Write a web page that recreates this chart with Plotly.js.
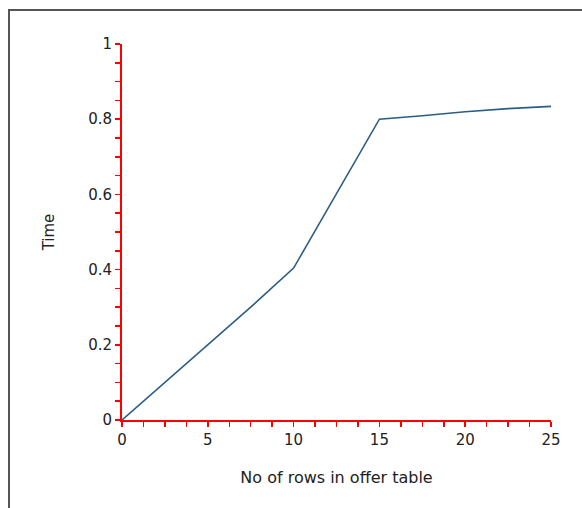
<!DOCTYPE html>
<html>
<head>
<meta charset="utf-8">
<script src="https://cdn.plot.ly/plotly-3.0.1.min.js"></script>
<style>
  html, body { margin: 0; padding: 0; background: #fff; }
  #wrap { position: relative; width: 582px; height: 508px; overflow: hidden; }
  #chart { width: 582px; height: 508px; }
  #frame { position: absolute; left: 8px; top: 9px; width: 700px; height: 700px;
           border-top: 2px solid #555; border-left: 2px solid #555; pointer-events: none; }
</style>
</head>
<body>
<div id="wrap">
  <div id="chart"></div>
  <div id="frame"></div>
</div>
<script>
const rows = [0, 2.5, 5, 7.5, 10, 12.5, 15, 17.5, 20, 22.5, 25];
const times = [0, 0.1, 0.2, 0.3, 0.404, 0.602, 0.8, 0.809, 0.82, 0.828, 0.834];
const xTitle = 'No of rows in offer table';
const yTitle = 'Time';

const FONT = 'DejaVu Sans, Verdana, sans-serif';

const trace = {
  x: rows, y: times, type: 'scatter', mode: 'lines',
  line: { color: '#2b5d85', width: 1.6 },
  hoverinfo: 'skip'
};

const axisCommon = {
  showgrid: false, zeroline: false, showline: true,
  linecolor: '#ff0000', linewidth: 2,
  ticks: 'outside', ticklen: 5, tickwidth: 1.5, tickcolor: '#ff0000',
  tickfont: { family: FONT, size: 15, color: '#222' }
};

const layout = {
  width: 582, height: 508,
  margin: { l: 122, r: 31, t: 44, b: 88 },
  paper_bgcolor: '#fff', plot_bgcolor: '#fff',
  showlegend: false,
  xaxis: Object.assign({}, axisCommon, {
    range: [0, 25], tick0: 0, dtick: 5,
    minor: { dtick: 1.25, ticks: 'outside', ticklen: 5, tickwidth: 1.5, tickcolor: '#ff0000', showgrid: false },
    title: { text: xTitle, font: { family: FONT, size: 16, color: '#222' }, standoff: 24 }
  }),
  yaxis: Object.assign({}, axisCommon, {
    range: [0, 1], tick0: 0, dtick: 0.2,
    minor: { dtick: 0.05, ticks: 'outside', ticklen: 5, tickwidth: 1.5, tickcolor: '#ff0000', showgrid: false },
    title: { text: yTitle, font: { family: FONT, size: 15, color: '#222' }, standoff: 30 }
  })
};

Plotly.newPlot('chart', [trace], layout, { displayModeBar: false, staticPlot: true });
</script>
</body>
</html>
